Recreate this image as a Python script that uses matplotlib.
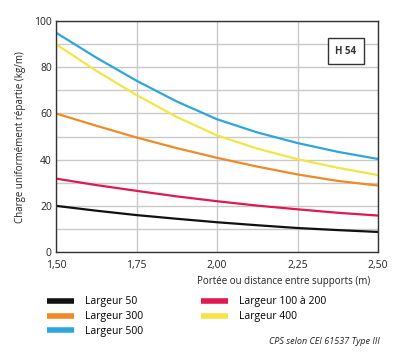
import matplotlib
matplotlib.use("Agg")
import matplotlib.pyplot as plt
from matplotlib.ticker import FixedLocator

plt.rcParams['font.family'] = ['Open Sans', 'DejaVu Sans']

portee = [1.5, 1.625, 1.75, 1.875, 2.0, 2.125, 2.25, 2.375, 2.5]

larg_50 = [20, 17.9, 16, 14.4, 12.9, 11.6, 10.4, 9.5, 8.7]
larg_300 = [60, 54.7, 49.6, 45, 40.8, 37, 33.6, 30.8, 28.8]
larg_500 = [95, 84.2, 74.2, 65.2, 57.5, 51.8, 47.2, 43.4, 40.3]
larg_100_200 = [31.8, 29, 26.5, 24.1, 22, 20.1, 18.5, 17, 15.8]
larg_400 = [90, 78.5, 68, 58.5, 50.5, 44.8, 40.2, 36.5, 33.3]

xticks = [1.5, 1.75, 2.0, 2.25, 2.5]
xlabels = ['1,50', '1,75', '2,00', '2,25', '2,50']
yticks = [0, 20, 40, 60, 80, 100]

series = [
    ("Largeur 50", larg_50, "#111111"),
    ("Largeur 300", larg_300, "#f08a24"),
    ("Largeur 500", larg_500, "#2ea6dd"),
    ("Largeur 100 à 200", larg_100_200, "#e2184f"),
    ("Largeur 400", larg_400, "#f3e545"),
]

fig = plt.figure(figsize=(4, 3.52), dpi=100)
ax = fig.add_axes([0.14, 0.284, 0.805, 0.656])

for name, vals, col in series:
    ax.plot(portee, vals, color=col, lw=1.6, label=name, solid_capstyle='butt')

ax.set_xlim(1.5, 2.5)
ax.set_ylim(0, 100)
ax.set_xticks(xticks, xlabels)
ax.set_yticks(yticks)
ax.yaxis.set_minor_locator(FixedLocator(range(10, 100, 20)))
ax.grid(True, which='both', color='#c9c9c9', lw=1)
ax.set_axisbelow(True)
ax.tick_params(length=0, labelsize=7.5, pad=3, colors='#222222')
ax.tick_params(axis='x', pad=6)
ax.tick_params(which='minor', length=0)
for s in ax.spines.values():
    s.set_color('#333333')
    s.set_linewidth(1)

ax.set_ylabel("Charge uniformément répartie (kg/m)", fontsize=7, color='#222222', labelpad=6)
ax.set_xlabel("Portée ou distance entre supports (m)", fontsize=7, color='#222222')
ax.xaxis.set_label_coords(0.975, -0.105, transform=ax.transAxes)
ax.xaxis.label.set_ha('right')

ax.text(0.9, 0.87, "H 54", transform=ax.transAxes, ha='center', va='center',
        fontsize=7, fontweight='bold', color='#333333',
        bbox=dict(boxstyle='square,pad=0.75', fc='white', ec='#333333', lw=1))

fig.legend(loc='upper left', bbox_to_anchor=(0.095, 0.185), ncol=2, frameon=False,
           fontsize=7.5, handlelength=2.6, handleheight=0.5, labelspacing=0.35,
           columnspacing=5.6, handletextpad=1.0)
leg = fig.legends[0]
for h in leg.legend_handles:
    h.set_linewidth(4)

fig.text(0.95, 0.018, "CPS selon CEI 61537 Type III", ha='right', va='bottom',
         fontsize=6.5, style='italic', color='#222222')

fig.savefig("out.png", dpi=100)
